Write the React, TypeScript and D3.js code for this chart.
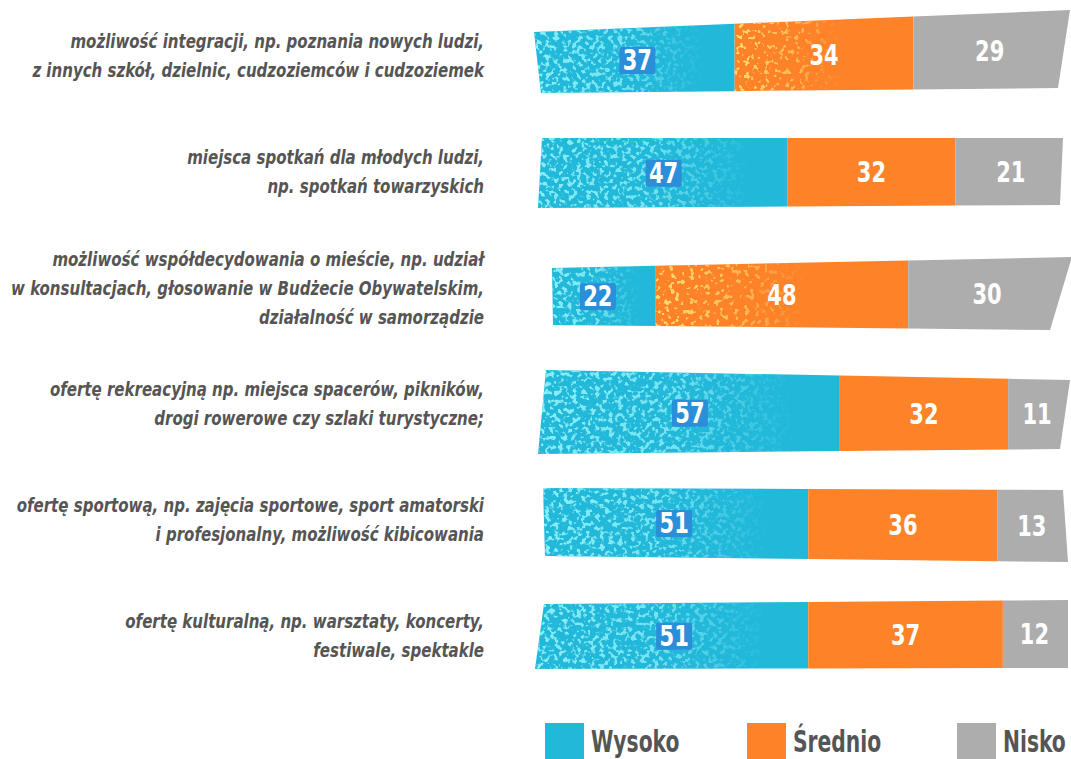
import { useEffect, useRef } from "react";
import * as d3 from "d3";

// Category labels (already broken into lines as in the source)
const categories: string[][] = [
  ["możliwość integracji, np. poznania nowych ludzi,", "z innych szkół, dzielnic, cudzoziemców i cudzoziemek"],
  ["miejsca spotkań dla młodych ludzi,", "np. spotkań towarzyskich"],
  ["możliwość współdecydowania o mieście, np. udział", "w konsultacjach, głosowanie w Budżecie Obywatelskim,", "działalność w samorządzie"],
  ["ofertę rekreacyjną np. miejsca spacerów, pikników,", "drogi rowerowe czy szlaki turystyczne;"],
  ["ofertę sportową,  np. zajęcia sportowe, sport amatorski", "i profesjonalny, możliwość kibicowania"],
  ["ofertę kulturalną, np. warsztaty, koncerty,", "festiwale, spektakle"],
];

const seriesNames = ["Wysoko", "Średnio", "Nisko"];
const wysoko = [37, 47, 22, 57, 51, 51];
const srednio = [34, 32, 48, 32, 36, 37];
const nisko = [29, 21, 30, 11, 13, 12];

const colors = ["#22b8d9", "#fe8227", "#adadad"];
const speckColors = ["#40d9ee", "#f8b52c"];

// "brush stroke" corner offsets per row: [tl, tr, br, bl] as [dx, dy]
const brushEdges: [number, number][][] = [
  [[-6, 9], [4, -13], [-8, -1], [1, 4]],
  [[2, -1], [-3, -1], [-6, 0], [-2, 3]],
  [[12, 13], [6, 2], [-16, 9], [13, 4]],
  [[6, -1], [4, 9], [-6, 12], [-2, 17]],
  [[3, 1], [-3, 3], [2, 9], [5, 3]],
  [[4, 1], [2, -3], [2, -1], [-5, 0]],
];
// rows that also get a speckled orange section
const orangeSpeck = [true, false, true, false, false, false];

const W = 1071;
const H = 759;
const labelFont = "'DejaVu Sans Condensed', 'DejaVu Sans', sans-serif";

export default function App() {
  const svgRef = useRef<SVGSVGElement | null>(null);

  useEffect(() => {
    if (!svgRef.current) return;
    const svg = d3.select(svgRef.current);
    svg.html("");

    // the source uses a narrow font, so squeeze text horizontally to match
    const probe = svg.append("text")
      .attr("font-family", labelFont).attr("font-weight", "bold").attr("font-style", "italic")
      .attr("font-size", 20).text(categories[0][0]);
    const squeeze = 414 / (probe.node() as SVGTextElement).getComputedTextLength();
    probe.remove();

    const defs = svg.append("defs");

    // speckle filters built from noise
    speckColors.forEach((c, k) => {
      const col = d3.rgb(c);
      const f = defs.append("filter").attr("id", `speck${k}`)
        .attr("x", "-5%").attr("y", "-5%").attr("width", "110%").attr("height", "110%");
      f.append("feTurbulence").attr("type", "fractalNoise")
        .attr("baseFrequency", k === 0 ? 0.22 : 0.2).attr("numOctaves", 2).attr("seed", 7 + k)
        .attr("result", "noise");
      f.append("feColorMatrix").attr("in", "noise").attr("type", "matrix")
        .attr("values", `0 0 0 0 ${col.r / 255}  0 0 0 0 ${col.g / 255}  0 0 0 0 ${col.b / 255}  ${k === 0 ? 9 : 12} 0 0 0 ${k === 0 ? -4.7 : -7.0}`)
        .attr("result", "dots");
      f.append("feComposite").attr("in", "dots").attr("in2", "SourceGraphic").attr("operator", "in");
    });

    const fade = defs.append("linearGradient").attr("id", "fade").attr("x1", 0).attr("x2", 1).attr("y1", 0).attr("y2", 0);
    fade.append("stop").attr("offset", 0).attr("stop-color", "#fff").attr("stop-opacity", 1);
    fade.append("stop").attr("offset", 0.45).attr("stop-color", "#fff").attr("stop-opacity", 0.8);
    fade.append("stop").attr("offset", 0.85).attr("stop-color", "#fff").attr("stop-opacity", 0);

    const fadeO = defs.append("linearGradient").attr("id", "fadeO").attr("x1", 0).attr("x2", 1).attr("y1", 0).attr("y2", 0);
    fadeO.append("stop").attr("offset", 0).attr("stop-color", "#fff").attr("stop-opacity", 1);
    fadeO.append("stop").attr("offset", 0.35).attr("stop-color", "#fff").attr("stop-opacity", 0.6);
    fadeO.append("stop").attr("offset", 0.6).attr("stop-color", "#fff").attr("stop-opacity", 0);

    const x = d3.scaleLinear().domain([0, 100]).range([540, 1066]);
    const y = d3.scalePoint<number>().domain(d3.range(categories.length)).range([56, 636]);
    const half = 33;

    const series = [wysoko, srednio, nisko];

    categories.forEach((lines, i) => {
      const yc = y(i)!;
      const e = brushEdges[i];
      const TL: [number, number] = [x(0) + e[0][0], yc - half + e[0][1]];
      const TR: [number, number] = [x(100) + e[1][0], yc - half + e[1][1]];
      const BR: [number, number] = [x(100) + e[2][0], yc + half + e[2][1]];
      const BL: [number, number] = [x(0) + e[3][0], yc + half + e[3][1]];
      const topY = d3.scaleLinear().domain([TL[0], TR[0]]).range([TL[1], TR[1]]);
      const botY = d3.scaleLinear().domain([BL[0], BR[0]]).range([BL[1], BR[1]]);

      const g = svg.append("g");
      let cum = 0;
      series.forEach((s, k) => {
        const v0 = cum;
        const v1 = cum + s[i];
        cum = v1;
        const first = k === 0;
        const last = k === series.length - 1;
        const xl = x(v0);
        const xr = x(v1);
        const pts: [number, number][] = [
          first ? TL : [xl, topY(xl)],
          last ? TR : [xr, topY(xr)],
          last ? BR : [xr, botY(xr)],
          first ? BL : [xl, botY(xl)],
        ];
        const poly = "M" + pts.map((p) => p.join(",")).join("L") + "Z";
        g.append("path").attr("d", poly).attr("fill", colors[k]);
        if (k === 0) {
          g.append("path").attr("d", poly).attr("fill", "url(#fade)").attr("filter", "url(#speck0)");
        }
        if (k === 1 && orangeSpeck[i]) {
          g.append("path").attr("d", poly).attr("fill", "url(#fadeO)").attr("filter", "url(#speck1)");
        }

        const xm = (xl + xr) / 2;
        const ym = (topY(xm) + botY(xm)) / 2;
        const lg = g.append("g").attr("transform", `translate(${xm},${ym + 10}) scale(${squeeze},1)`);
        const t = lg.append("text")
          .attr("x", 0).attr("y", 0)
          .attr("text-anchor", "middle")
          .attr("font-family", labelFont)
          .attr("font-weight", "bold")
          .attr("font-size", 28)
          .attr("fill", "#fff")
          .text(s[i]);
        if (k === 0) {
          const bb = (t.node() as SVGTextElement).getBBox();
          lg.insert("rect", () => t.node())
            .attr("x", bb.x - 4).attr("y", -23)
            .attr("width", bb.width + 8).attr("height", 27)
            .attr("rx", 2)
            .attr("fill", "#2a8ed8");
        }
      });

      // category label
      const lh = 29;
      const ty = yc - ((lines.length - 1) * lh) / 2 + 7;
      const txt = svg.append("g")
        .attr("transform", `translate(484,0) scale(${squeeze},1)`)
        .append("text")
        .attr("text-anchor", "end")
        .attr("font-family", labelFont)
        .attr("font-weight", "bold")
        .attr("font-style", "italic")
        .attr("font-size", 20)
        .attr("fill", "#555555");
      lines.forEach((l, j) => {
        txt.append("tspan").attr("x", 0).attr("y", ty + j * lh).text(l);
      });
    });

    // legend
    const legendX = [545, 747, 957];
    const lg = svg.append("g");
    seriesNames.forEach((n, k) => {
      lg.append("rect").attr("x", legendX[k]).attr("y", 723).attr("width", 39).attr("height", 40).attr("fill", colors[k]);
      lg.append("g")
        .attr("transform", `translate(${legendX[k] + 46},752) scale(${squeeze * 0.9},1)`)
        .append("text")
        .attr("font-family", labelFont)
        .attr("font-weight", "bold")
        .attr("font-size", 30)
        .attr("fill", "#555555")
        .text(n);
    });
  }, []);

  return (
    <svg
      ref={svgRef}
      width={W}
      height={H}
      style={{ position: "absolute", left: 0, top: 0, background: "#fff" }}
    />
  );
}
